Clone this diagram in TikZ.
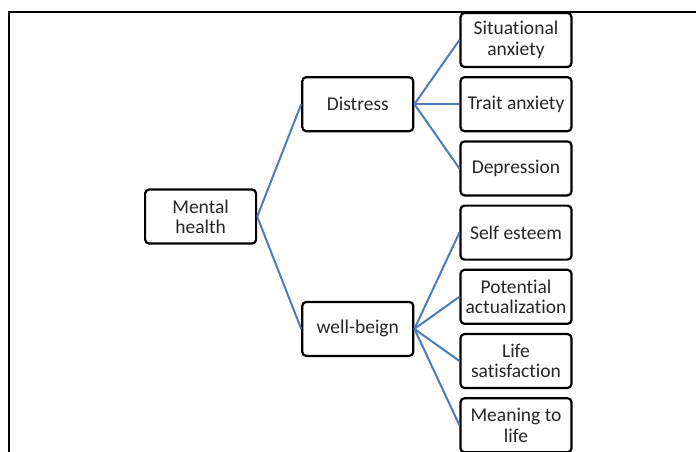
\documentclass[tikz,border=0pt]{standalone}
\usepackage{fontspec}
\setmainfont[Ligatures=NoCommon]{Carlito}
\usetikzlibrary{positioning,calc}
\definecolor{linkblue}{RGB}{74,126,187}
\begin{document}
\begin{tikzpicture}[x=1pt,y=-1pt,
box/.style={draw, rectangle, rounded corners=4pt, line width=2.2pt, minimum width=111pt, minimum height=54pt, align=center, inner sep=2pt, font=\fontsize{19.5}{20.5}\selectfont, text=black!85},
link/.style={draw=linkblue, line width=2pt}]
\useasboundingbox (0,0) rectangle (696,452);
\clip (0,0) rectangle (696,452);
% frame
\draw[line width=2pt] (9,470) -- (9,12) -- (710,12);
% right column
\node[box] (sit) at (516,40) {Situational\\anxiety};
\node[box, below=8pt of sit] (trait) {Trait anxiety};
\node[box, below=8pt of trait] (dep) {Depression};
\node[box, below=8pt of dep] (self) {Self esteem};
\node[box, below=8pt of self] (pot) {Potential\\actualization};
\node[box, below=8pt of pot] (life) {Life\\satisfaction};
\node[box, below=8pt of life] (mean) {Meaning to\\life};
% middle and left
\node[box, left=45pt of trait] (dist) {Distress};
\coordinate (wm) at ($(pot.west)!.5!(life.west)$);
\node[box, left=45pt of wm] (well) {well-beign};
\coordinate (mm) at ($(dist.west)!.5!(well.west)$);
\node[box, left=44pt of mm] (mh) {Mental\\health};
% links
\draw[link] (mh.east) -- (dist.west);
\draw[link] (mh.east) -- (well.west);
\foreach \c in {sit,trait,dep}
  \draw[link] (dist.east) -- (\c.west);
\foreach \c in {self,pot,life,mean}
  \draw[link] (well.east) -- (\c.west);
\end{tikzpicture}
\end{document}
